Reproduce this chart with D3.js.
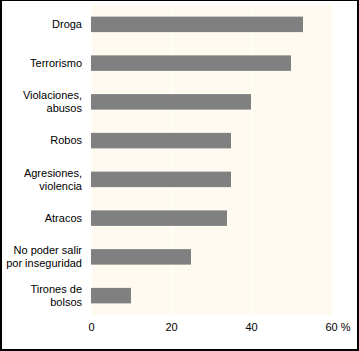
<!DOCTYPE html>
<html>
<head>
<meta charset="utf-8">
<script src="https://cdn.jsdelivr.net/npm/d3@7"></script>
<style>
  body { margin: 0; background: #fff; }
  text { font-family: "Liberation Sans", Arial, sans-serif; font-size: 11px; fill: #000; }
</style>
</head>
<body>
<div id="chart"></div>
<script>
// data
var categories = [["Droga"], ["Terrorismo"], ["Violaciones,", "abusos"], ["Robos"],
                  ["Agresiones,", "violencia"], ["Atracos"], ["No poder salir", "por inseguridad"],
                  ["Tirones de", "bolsos"]];
var values = [53, 50, 40, 35, 35, 34, 25, 10];
var ticks = [0, 20, 40, 60];

var w = 359, h = 351;
var plotLeft = 92, plotRight = 332, plotTop = 5, plotBottom = 315;

var svg = d3.select("#chart").append("svg")
    .attr("width", w)
    .attr("height", h);

// outer frame
svg.append("rect").attr("x", 0).attr("y", 0).attr("width", 2).attr("height", 351).attr("fill", "#000");
svg.append("rect").attr("x", 0).attr("y", 0).attr("width", 359).attr("height", 1).attr("fill", "#000");
svg.append("rect").attr("x", 357).attr("y", 0).attr("width", 2).attr("height", 351).attr("fill", "#000");
svg.append("rect").attr("x", 0).attr("y", 349).attr("width", 359).attr("height", 2).attr("fill", "#000");

var xScale = d3.scaleLinear().domain([0, 60]).range([plotLeft, plotRight]);
var yScale = d3.scaleBand()
    .domain(d3.range(values.length))
    .range([plotTop, plotBottom])
    .paddingInner(0.6)
    .paddingOuter(0.3);

// plot background
svg.append("rect")
    .attr("x", plotLeft)
    .attr("y", plotTop)
    .attr("width", plotRight - plotLeft)
    .attr("height", plotBottom - plotTop)
    .attr("fill", "#fffaf0");

// white grid lines
svg.selectAll("line.grid")
    .data([20, 40])
    .enter()
    .append("line")
    .attr("class", "grid")
    .attr("x1", function(d) { return Math.round(xScale(d)) + 0.5; })
    .attr("x2", function(d) { return Math.round(xScale(d)) + 0.5; })
    .attr("y1", plotTop)
    .attr("y2", plotBottom)
    .attr("stroke", "#fff")
    .attr("stroke-width", 1);

// bars
svg.selectAll("rect.bar")
    .data(values)
    .enter()
    .append("rect")
    .attr("class", "bar")
    .attr("x", xScale(0) - 1)
    .attr("y", function(d, i) { return yScale(i); })
    .attr("width", function(d) { return xScale(d) - xScale(0); })
    .attr("height", yScale.bandwidth())
    .attr("fill", "#808080");

// category labels
var lineH = 13;
svg.selectAll("text.cat")
    .data(categories)
    .enter()
    .append("text")
    .attr("class", "cat")
    .attr("text-anchor", "end")
    .attr("transform", function(d, i) {
        var cy = yScale(i) + yScale.bandwidth() / 2;
        return "translate(82," + (cy - (d.length - 1) * lineH / 2) + ")";
    })
    .each(function(d) {
        var t = d3.select(this);
        d.forEach(function(line, k) {
            t.append("tspan")
                .attr("x", 0)
                .attr("y", k * lineH)
                .attr("dy", "0.35em")
                .text(line);
        });
    });

// x axis (labels only)
var xAxis = d3.axisBottom(xScale)
    .tickValues(ticks)
    .tickSize(0)
    .tickPadding(0)
    .tickFormat(function(d) { return d; });

var gx = svg.append("g")
    .attr("transform", "translate(-1," + 323 + ")")
    .call(xAxis);
gx.select(".domain").remove();
gx.selectAll("text")
    .attr("font-family", null)
    .attr("font-size", null)
    .attr("fill", "#000");
gx.selectAll(".tick").filter(function(d) { return d === 60; })
    .select("text")
    .attr("text-anchor", "start")
    .attr("x", -6)
    .text("60 %");
</script>
</body>
</html>
